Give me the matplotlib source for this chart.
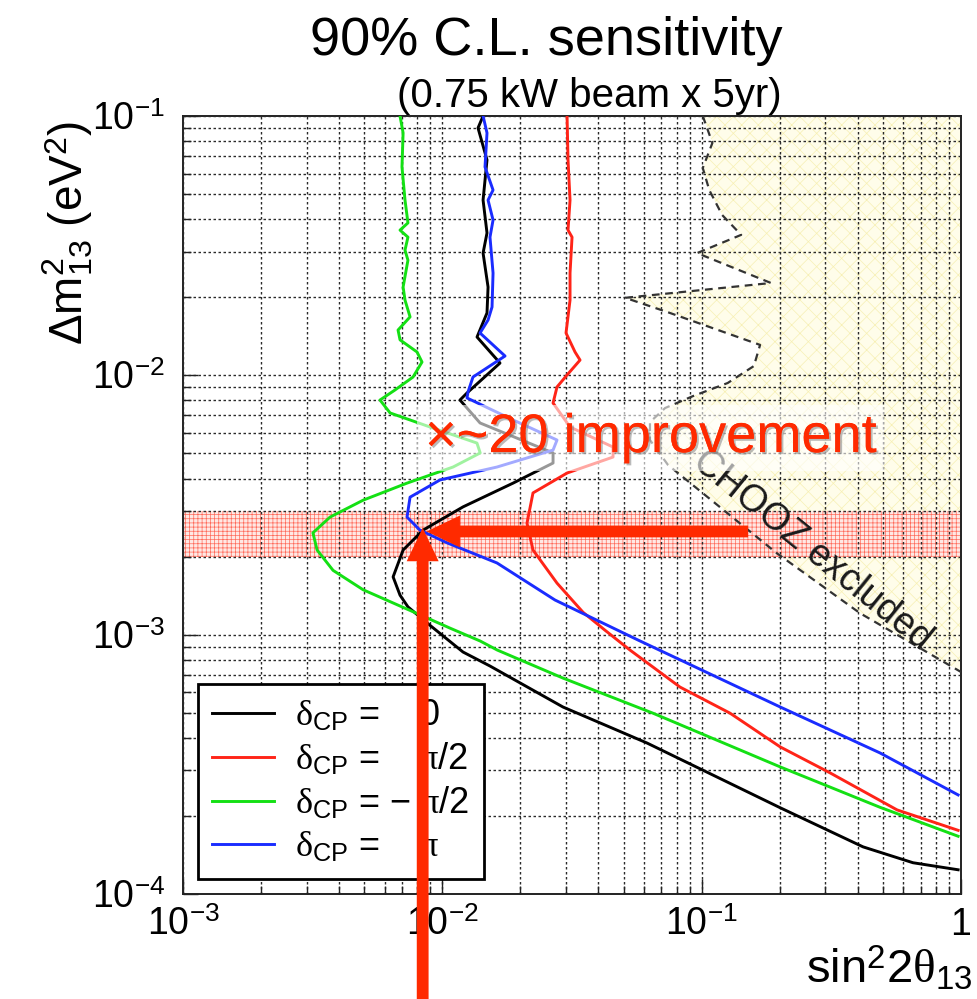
import numpy as np
import matplotlib.pyplot as plt
import matplotlib.patheffects as pe
from matplotlib.ticker import FixedLocator, FixedFormatter, LogLocator, NullFormatter

plt.rcParams['font.family'] = ['Liberation Sans', 'DejaVu Sans']
plt.rcParams['mathtext.fontset'] = 'custom'
plt.rcParams['mathtext.rm'] = 'Liberation Sans'
plt.rcParams['mathtext.it'] = 'Liberation Serif'
plt.rcParams['mathtext.bf'] = 'Liberation Sans:bold'
plt.rcParams['hatch.linewidth'] = 0.5

# --- sensitivity contours: sin^2(2 theta13) vs dm^2_13 (eV^2) ---
black_dm2 = [0.1, 0.0899, 0.0677, 0.0474, 0.0354, 0.0296, 0.0219, 0.0174, 0.01405, 0.01115,
             0.00855, 0.00803, 0.00655, 0.00502, 0.00459, 0.00384, 0.00311, 0.00253, 0.00212,
             0.00167, 0.00142, 0.00128, 0.00111, 0.000857, 0.000757, 0.000526, 0.000382,
             0.000215, 0.000152, 0.000132, 0.000124]
black_s2t = [0.01436, 0.01373, 0.01487, 0.01436, 0.01487, 0.01436, 0.01501, 0.01487, 0.01361,
             0.01669, 0.01245, 0.0117, 0.01398, 0.02673, 0.02673, 0.01874, 0.01202, 0.00843,
             0.00706, 0.00646, 0.00687, 0.00737, 0.00873, 0.01202, 0.01527, 0.0292, 0.0616,
             0.201, 0.419, 0.653, 0.975]

red_dm2 = [0.1, 0.0677, 0.0474, 0.0363, 0.0341, 0.0248, 0.0195, 0.01456, 0.0123, 0.01145,
           0.01003, 0.00902, 0.00782, 0.00632, 0.00529, 0.00484, 0.00420, 0.00352, 0.00269,
           0.00212, 0.00158, 0.00122, 0.00104, 0.000872, 0.000628, 0.000498, 0.000369,
           0.000293, 0.000211, 0.000176]
red_s2t = [0.03027, 0.03053, 0.03108, 0.03053, 0.03164, 0.03108, 0.03108, 0.02999, 0.03249,
           0.03397, 0.03027, 0.02769, 0.02673, 0.03108, 0.04553, 0.04553, 0.03027, 0.02237,
           0.02121, 0.02237, 0.02769, 0.03488, 0.04241, 0.05295, 0.0825, 0.1287, 0.201, 0.313,
           0.567, 0.975]

green_dm2 = [0.1, 0.0860, 0.0636, 0.0474, 0.0387, 0.0363, 0.0341, 0.0304, 0.0278, 0.0219,
             0.0195, 0.0168, 0.01495, 0.0137, 0.0123, 0.01125, 0.00985, 0.00878, 0.00803,
             0.00716, 0.00632, 0.00548, 0.00502, 0.00443, 0.00384, 0.00330, 0.00284, 0.00247,
             0.00212, 0.00177, 0.00149, 0.00124, 0.00106, 0.000945, 0.000872, 0.000680,
             0.000498, 0.000309, 0.000216, 0.000167]
green_s2t = [0.00687, 0.00706, 0.00699, 0.00718, 0.00737, 0.00687, 0.00737, 0.00718, 0.00737,
             0.00706, 0.00718, 0.00751, 0.00675, 0.00687, 0.00799, 0.00835, 0.00771, 0.00657,
             0.00575, 0.00629, 0.00897, 0.0136, 0.0140, 0.0110, 0.00731, 0.00495, 0.00369,
             0.00317, 0.00329, 0.00379, 0.00495, 0.00751, 0.0107, 0.0140, 0.0163, 0.0292,
             0.0649, 0.201, 0.487, 0.975]

blue_dm2 = [0.1, 0.0860, 0.0636, 0.0518, 0.0474, 0.0397, 0.0341, 0.0248, 0.01834, 0.01634,
            0.01456, 0.01187, 0.00985, 0.00862, 0.00818, 0.00673, 0.00563, 0.00515, 0.00443,
            0.00395, 0.00339, 0.00284, 0.00253, 0.00226, 0.00189, 0.00136, 0.000953, 0.000526,
            0.000350, 0.000241]
blue_s2t = [0.01436, 0.01487, 0.01461, 0.01569, 0.01501, 0.01569, 0.01527, 0.01569, 0.01555,
            0.01501, 0.01398, 0.01745, 0.01313, 0.01256, 0.01245, 0.01874, 0.02769, 0.02673,
            0.01625, 0.0098, 0.00751, 0.00731, 0.0082, 0.01043, 0.01625, 0.0272, 0.0569, 0.201,
            0.487, 0.975]

# CHOOZ exclusion boundary (excluded to the right)
chooz_dm2 = [0.1, 0.0787, 0.0630, 0.0518, 0.0415, 0.0348, 0.0296, 0.0227, 0.0199, 0.0175,
             0.0131, 0.01086, 0.00934, 0.00832, 0.00748, 0.0066, 0.00563, 0.00451, 0.00206,
             0.00121, 0.000718]
chooz_s2t = [0.101, 0.110, 0.101, 0.107, 0.120, 0.142, 0.096, 0.185, 0.0507, 0.0742, 0.168,
             0.159, 0.126, 0.0927, 0.0723, 0.0632, 0.0632, 0.0742, 0.195, 0.408, 1.0]

# atmospheric dm^2 band and the arrows pointing at the best reach
band_lo, band_hi = 2.0e-3, 3.0e-3
h_arrow_from = (0.151, 0.0025)
h_arrow_to = (0.0087, 0.0025)
v_arrow_to = (0.0084, 0.00258)

x_ticks = [1e-3, 1e-2, 1e-1, 1.0]
x_tick_labels = ['$10^{-3}$', '$10^{-2}$', '$10^{-1}$', '1']
y_ticks = [1e-4, 1e-3, 1e-2, 1e-1]
y_tick_labels = ['$10^{-4}$', '$10^{-3}$', '$10^{-2}$', '$10^{-1}$']

series = [
    (black_s2t, black_dm2, 'black', r'$\delta_{\mathrm{CP}}$ =    0'),
    (red_s2t, red_dm2, '#ff2418', r'$\delta_{\mathrm{CP}}$ =    $\pi$/2'),
    (green_s2t, green_dm2, '#14e014', r'$\delta_{\mathrm{CP}}$ = $-$ $\pi$/2'),
    (blue_s2t, blue_dm2, '#1a2cff', r'$\delta_{\mathrm{CP}}$ =    $\pi$'),
]

RED = '#ff2a00'

fig = plt.figure(figsize=(9.78, 9.99), dpi=100)
ax = fig.add_axes([0.1871, 0.1051, 0.7955, 0.7788])
ax.set_xscale('log')
ax.set_yscale('log')
ax.set_xlim(1e-3, 1.0)
ax.set_ylim(1e-4, 1e-1)

# CHOOZ excluded region
ax.fill_betweenx(chooz_dm2, chooz_s2t, 1.0, facecolor='#fffdea', edgecolor='none', zorder=0.5)
ax.fill_betweenx(chooz_dm2, chooz_s2t, 1.0, facecolor='none', edgecolor='#f7f0b4',
                 hatch='xx', linewidth=0, zorder=0.6)
ax.plot(chooz_s2t, chooz_dm2, color='#333333', lw=1.6, dashes=(3.5, 2.5), zorder=2.8)

# dm^2 band
ax.axhspan(band_lo, band_hi, facecolor='#ffe8e4', edgecolor='none', zorder=0.7)
ax.axhspan(band_lo, band_hi, facecolor='none', edgecolor='#ff6a5a', hatch='++++',
           linewidth=0, zorder=0.8)

# grid at every decade subdivision
ax.set_axisbelow(False)
ax.xaxis.set_major_locator(FixedLocator(x_ticks))
ax.xaxis.set_major_formatter(FixedFormatter(x_tick_labels))
ax.yaxis.set_major_locator(FixedLocator(y_ticks))
ax.yaxis.set_major_formatter(FixedFormatter(y_tick_labels))
ax.xaxis.set_minor_locator(LogLocator(base=10, subs=np.arange(2, 10)))
ax.yaxis.set_minor_locator(LogLocator(base=10, subs=np.arange(2, 10)))
ax.xaxis.set_minor_formatter(NullFormatter())
ax.yaxis.set_minor_formatter(NullFormatter())
ax.grid(True, which='both', color='#2a2a2a', linestyle=(0, (1.8, 1.8)), linewidth=1.0)
ax.tick_params(which='both', direction='in', top=False, right=False, width=1.0,
               colors='#222222', labelcolor='black')
ax.tick_params(which='major', length=11, labelsize=27)
ax.tick_params(which='minor', length=6)
ax.tick_params(axis='x', which='major', pad=9)
ax.tick_params(axis='y', which='major', pad=13)
for sp in ax.spines.values():
    sp.set_linewidth(1.4)
    sp.set_color('#222222')

for xs, ys, col, lab in series:
    ax.plot(xs, ys, color=col, lw=2.1, label=lab, zorder=3, solid_joinstyle='round')

# annotation text over a washed-out box
t = ax.text(0.00858, 0.00506, '×~20 improvement', color=RED, fontsize=39,
            ha='left', va='baseline', zorder=5,
            bbox=dict(boxstyle='square,pad=0.15', facecolor='white', alpha=0.6, edgecolor='none'))
t.set_path_effects([pe.withSimplePatchShadow(offset=(1.5, -1.5), shadow_rgbFace='#777777', alpha=0.5),
                    pe.Normal()])

ax.text(0.267, 0.00212, 'CHOOZ excluded', color='#1a1a1a', fontsize=27, rotation=-39,
        ha='center', va='center', rotation_mode='anchor', zorder=4)

# arrows
arrow_style = 'simple,head_length=2.4,head_width=2.3,tail_width=0.85'
ax.annotate('', xy=h_arrow_to, xytext=h_arrow_from,
            arrowprops=dict(arrowstyle=arrow_style, color=RED, lw=0, shrinkA=0, shrinkB=0,
                            mutation_scale=10), zorder=6)
v = ax.annotate('', xy=v_arrow_to, xytext=(v_arrow_to[0], 0.0),
                textcoords=('data', 'figure fraction'), annotation_clip=False,
                arrowprops=dict(arrowstyle=arrow_style, color=RED, lw=0, shrinkA=0, shrinkB=0,
                                mutation_scale=10), zorder=6)
v.arrow_patch.set_clip_on(False)

leg = ax.legend(loc='lower left', bbox_to_anchor=(0.0193, 0.0193), borderaxespad=0,
                fontsize=26, frameon=True, fancybox=False, edgecolor='black', framealpha=1,
                handlelength=1.7, handletextpad=0.6, borderpad=0.4, labelspacing=0.22)
leg.get_frame().set_linewidth(2.0)
leg.set_zorder(5.5)

fig.text(546 / 978, 1 - 55 / 999, '90% C.L. sensitivity', ha='center', va='baseline', fontsize=39)
fig.text(589 / 978, 1 - 107 / 999, '(0.75 kW beam x 5yr)', ha='center', va='baseline', fontsize=29)
fig.text(972 / 978, 1 - 983 / 999, r'sin$^{2}$2$\theta_{13}$', ha='right', va='baseline', fontsize=34)
fig.text(95 / 978, 1 - 121 / 999, r'$\Delta\mathrm{m}^{2}_{13}$ (eV$^{2}$)', rotation=90,
         ha='right', va='top', fontsize=33)

fig.savefig('out.png', dpi=100)
